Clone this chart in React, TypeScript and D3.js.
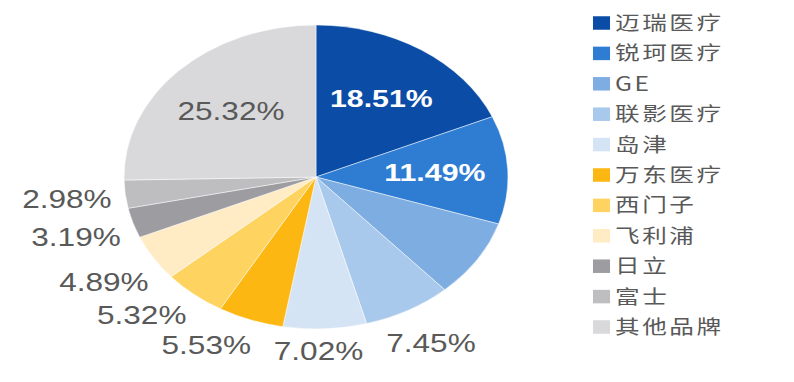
import React from 'react';
import * as d3 from 'd3';

const categories = ['迈瑞医疗', '锐珂医疗', 'GE', '联影医疗', '岛津', '万东医疗', '西门子', '飞利浦', '日立', '富士', '其他品牌'];
const shares = [18.51, 11.49, 8.30, 7.45, 7.02, 5.53, 5.32, 4.89, 3.19, 2.98, 25.32];
const labelPlacement = ['inside', 'inside', 'none', 'outside', 'outside', 'outside', 'outside', 'outside', 'outside', 'outside', 'inside'];
const colors = ['#0B4DA6', '#2F7DD2', '#7EADE2', '#A8C9EC', '#D5E4F5', '#FDB712', '#FFD35F', '#FFEBC4', '#9D9DA1', '#BEBEC1', '#D9D9DB'];

const W = 794;
const H = 382;
const SX = 1.263; // horizontal stretch of the whole picture
const CX = 250.2;
const CY = 177;
const R = 152;
const TEXT = '#595959';
const NUM_FONT = '"Liberation Sans", Arial, sans-serif';
const CJK_FONT = '"Noto Sans CJK SC", "Noto Sans", sans-serif';

const FS = 25;
const HALF_W = 35.4; // half label width (unscaled)
const HALF_H = 12;
const GAP = 10;
const PAD_X = 22; // screen px
const PAD_Y = 5;

function outsidePos(theta: number) {
  const s = Math.sin(theta);
  const c = -Math.cos(theta);
  const ext = Math.abs(s) * HALF_W + Math.abs(c) * HALF_H;
  const rr = R + ext + GAP;
  return { x: s * rr, y: c * rr };
}

export default function App() {
  const pie = d3.pie<number>().sort(null).value((d) => d)(shares);
  const arc = d3.arc<d3.PieArcDatum<number>>().innerRadius(0).outerRadius(R);
  const fmt = (v: number) => v.toFixed(2) + '%';

  // place outside labels, pushing each clockwise away from the previous one if crowded
  const outside: Record<number, { x: number; y: number }> = {};
  let prev: { x: number; y: number } | null = null;
  pie.forEach((p, i) => {
    if (labelPlacement[i] !== 'outside') return;
    let theta = (p.startAngle + p.endAngle) / 2;
    let pos = outsidePos(theta);
    for (let k = 0; k < 60 && prev; k++) {
      const dx = Math.abs(pos.x - prev.x) * SX;
      const dy = Math.abs(pos.y - prev.y);
      const overlap = dx < 2 * HALF_W * SX + PAD_X && dy < 2 * HALF_H + PAD_Y;
      if (!overlap) break;
      theta += 0.005;
      pos = outsidePos(theta);
    }
    outside[i] = pos;
    prev = pos;
  });

  return (
    <svg width={W} height={H} style={{ position: 'absolute', left: 0, top: 0, display: 'block', background: '#ffffff' }}>
      <g transform={`scale(${SX},1)`}>
        <g transform={`translate(${CX},${CY})`}>
          {pie.map((p, i) => (
            <path key={i} d={arc(p) || ''} fill={colors[i]} stroke="#ffffff" strokeOpacity={0.6} strokeWidth={0.8} vectorEffect="non-scaling-stroke" />
          ))}
          {pie.map((p, i) => {
            const mid = (p.startAngle + p.endAngle) / 2;
            const s = Math.sin(mid);
            const c = -Math.cos(mid);
            if (labelPlacement[i] === 'inside') {
              const rr = R * 0.62;
              const dark = i < 2;
              return (
                <text key={'l' + i} x={s * rr} y={c * rr} dy="0.35em" textAnchor="middle"
                  fontFamily={NUM_FONT} fontSize={dark ? 24 : FS} fontWeight={dark ? 'bold' : 'normal'}
                  fill={dark ? '#ffffff' : TEXT}>
                  {fmt(shares[i])}
                </text>
              );
            }
            if (labelPlacement[i] === 'outside') {
              const pos = outside[i];
              return (
                <text key={'l' + i} x={pos.x} y={pos.y} dy="0.35em" textAnchor="middle"
                  fontFamily={NUM_FONT} fontSize={FS} fill={TEXT}>
                  {fmt(shares[i])}
                </text>
              );
            }
            return null;
          })}
        </g>
        <g transform="translate(469.5,23)">
          {categories.map((name, i) => (
            <g key={name} transform={`translate(0,${i * 30.4})`}>
              <rect x={0} y={-6.75} width={13.5} height={13.5} fill={colors[i]} />
              <text x={17.5} y={0} dy="0.36em" fontFamily={CJK_FONT} fontSize={19.5} letterSpacing={2} fill={TEXT}>
                {name}
              </text>
            </g>
          ))}
        </g>
      </g>
    </svg>
  );
}
